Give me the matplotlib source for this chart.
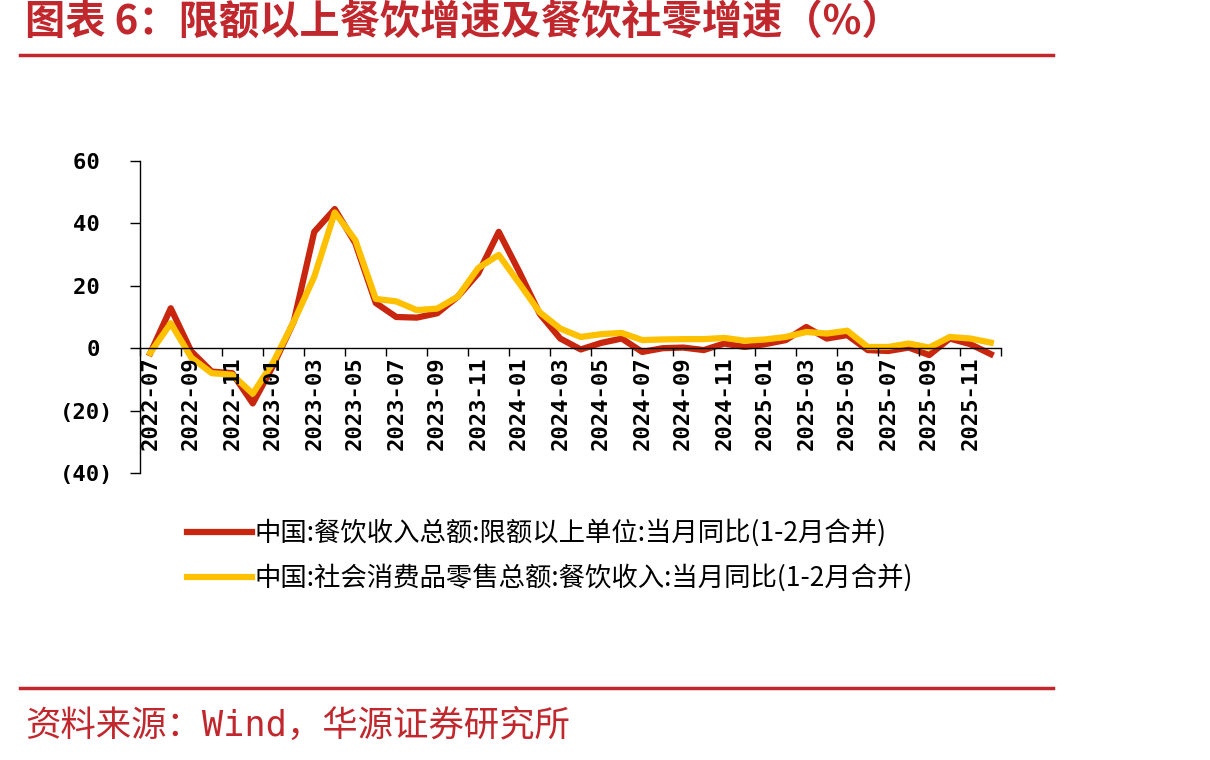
import numpy as np
import matplotlib
matplotlib.use("Agg")
import matplotlib.pyplot as plt
from matplotlib.ticker import FixedLocator, FuncFormatter

plt.rcParams['font.family'] = ['Noto Sans CJK SC', 'DejaVu Sans']

# ── data ───────────────────────────────────────────────────
months = [f"{y}-{m:02d}" for y, m in
          [(2022, m) for m in range(7, 13)]
          + [(2023, m) for m in range(1, 13)]
          + [(2024, m) for m in range(1, 13)]
          + [(2025, m) for m in range(1, 13)]]

above_limit = [-1.6, 12.8, -1.0, -7.5, -8.0, -17.7, -5.5, 8.5, 37.3, 44.6,
               33.7, 14.5, 10.0, 9.8, 11.2, 16.5, 24.0, 37.3, 24.5, 11.0,
               3.1, -0.4, 1.7, 3.1, -1.2, 0.0, 0.2, -0.6, 1.5, 0.4,
               1.3, 2.6, 6.8, 3.1, 4.2, -0.6, -0.9, 0.2, -2.2, 3.1,
               1.3, -1.9]

retail_catering = [-1.5, 8.0, -3.0, -8.0, -8.5, -14.6, -4.5, 8.5, 22.9, 43.5,
                   34.7, 15.8, 15.0, 12.2, 12.7, 16.5, 25.7, 29.9, 20.8, 11.5,
                   6.3, 3.6, 4.5, 4.9, 2.6, 2.8, 2.9, 2.9, 3.3, 2.4,
                   2.8, 3.6, 5.2, 4.7, 5.6, 0.4, 0.4, 1.5, 0.2, 3.6,
                   3.1, 1.8]

labels = ["中国:餐饮收入总额:限额以上单位:当月同比(1-2月合并)",
          "中国:社会消费品零售总额:餐饮收入:当月同比(1-2月合并)"]

title = "图表 6：限额以上餐饮增速及餐饮社零增速（%）"
source = "资料来源：Wind，华源证券研究所"

RED = "#C8260E"
YELLOW = "#FFC000"
DARKRED = "#C0282E"

fig = plt.figure(figsize=(12.1, 7.6), dpi=100)
ax = fig.add_axes([140 / 1210, 1 - 473 / 760, 861 / 1210, 312 / 760])
ax.set_axisbelow(False)

x = np.arange(len(months))
ax.plot(x, above_limit, color=RED, lw=4.5, label=labels[0], zorder=2)
ax.plot(x, retail_catering, color=YELLOW, lw=4.5, label=labels[1], zorder=2)

ax.set_xlim(-0.5, len(months) - 0.5)
ax.set_ylim(-40, 60)

# ── axes styling ───────────────────────────────────────────
for s in ("top", "right"):
    ax.spines[s].set_visible(False)
ax.spines["bottom"].set_position(("data", 0))
ax.spines["bottom"].set_linewidth(1.0)
ax.spines["left"].set_linewidth(1.0)

ax.set_yticks([-40, -20, 0, 20, 40, 60])
# accounting style: negatives in brackets, positives padded by one space
ax.yaxis.set_major_formatter(FuncFormatter(
    lambda v, p: f"({abs(int(v))})" if v < 0 else f"{int(v)} "))
ax.tick_params(axis="y", direction="out", length=7, width=1, pad=12)

ax.xaxis.set_major_locator(FixedLocator(np.arange(-0.5, len(months), 2)))
ax.xaxis.set_minor_locator(FixedLocator(x[::2]))
ax.set_xticklabels([], minor=False)
ax.set_xticklabels([months[i] for i in x[::2]], minor=True, rotation=90)
ax.tick_params(axis="x", which="major", direction="out", length=6, width=1)
ax.tick_params(axis="x", which="minor", length=0, pad=6)

for lab in ax.get_yticklabels() + ax.get_xticklabels(minor=True):
    lab.set_fontfamily("DejaVu Sans Mono")
    lab.set_fontweight("bold")
    lab.set_fontsize(16)

# ── legend ─────────────────────────────────────────────────
fig.legend(loc="upper left", bbox_to_anchor=(187 / 1210, 1 - 519 / 760),
           frameon=False, fontsize=19, handlelength=2.45, handletextpad=0.12,
           labelspacing=0.66, borderaxespad=0, borderpad=0)

# ── header / footer ────────────────────────────────────────
fig.text(25 / 1210, 1 - 23 / 760, title, color=DARKRED, fontsize=29,
         fontweight="bold", va="center", ha="left")
fig.add_artist(plt.Line2D([20 / 1210, 1053 / 1210], [1 - 55 / 760] * 2,
                          color=DARKRED, lw=2.5))
fig.add_artist(plt.Line2D([20 / 1210, 1053 / 1210], [1 - 688 / 760] * 2,
                          color=DARKRED, lw=2.5))
fig.text(25 / 1210, 1 - 726 / 760, source, color=DARKRED, fontsize=25.5,
         va="center", ha="left",
         family=["DejaVu Sans Mono", "Noto Sans CJK SC"])

fig.savefig("out.png", dpi=100)
